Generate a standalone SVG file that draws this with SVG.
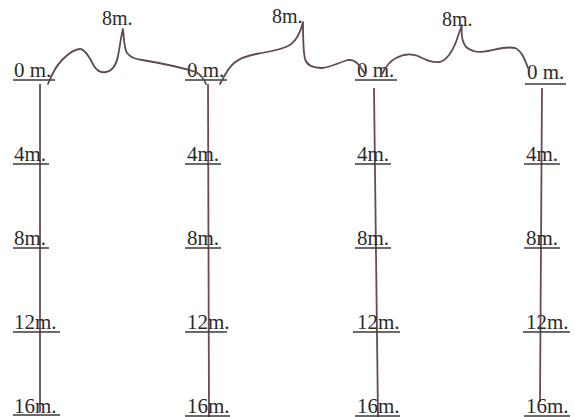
<svg xmlns="http://www.w3.org/2000/svg" width="575" height="417" viewBox="0 0 575 417">
<style>
.t{font-family:"Liberation Serif","Times New Roman",serif;font-size:21px;fill:#2b2b2b}
.tt{font-family:"Liberation Serif","Times New Roman",serif;font-size:20px;fill:#2b2b2b}
.u{stroke:#3a3a3a;stroke-width:1.4}
.pole{stroke:#6a4a58;stroke-width:1.8;fill:none}
.wire{stroke:#5e4a50;stroke-width:1.8;fill:none;stroke-linejoin:round;stroke-linecap:round}
</style>
<rect width="575" height="417" fill="#ffffff"/>
<g id="col1">
<line class="pole" x1="40" y1="84" x2="40" y2="412"/>
<text class="t" x="14" y="77">0 m.</text><line class="u" x1="13" y1="80" x2="55" y2="80"/>
<text class="t" x="14" y="161">4m.</text><line class="u" x1="13" y1="164" x2="49" y2="164"/>
<text class="t" x="14" y="245">8m.</text><line class="u" x1="13" y1="248" x2="49" y2="248"/>
<text class="t" x="14" y="329">12m.</text><line class="u" x1="13" y1="332" x2="60" y2="332"/>
<text class="t" x="14" y="413">16m.</text><line class="u" x1="13" y1="415" x2="60" y2="415"/>
</g>
<g id="col2">
<line class="pole" x1="208" y1="84" x2="209" y2="417"/>
<text class="t" x="187" y="77">0 m.</text><line class="u" x1="185" y1="80" x2="227" y2="80"/>
<text class="t" x="187" y="161">4m.</text><line class="u" x1="185" y1="164" x2="221" y2="164"/>
<text class="t" x="187" y="245">8m.</text><line class="u" x1="185" y1="248" x2="221" y2="248"/>
<text class="t" x="187" y="329">12m.</text><line class="u" x1="185" y1="332" x2="227" y2="332"/>
<text class="t" x="187" y="413">16m.</text><line class="u" x1="185" y1="416" x2="230" y2="416"/>
</g>
<g id="col3">
<line class="pole" x1="374" y1="88" x2="378" y2="417"/>
<text class="t" x="357" y="77">0 m.</text><line class="u" x1="355" y1="80" x2="397" y2="80"/>
<text class="t" x="357" y="161">4m.</text><line class="u" x1="355" y1="164" x2="391" y2="164"/>
<text class="t" x="357" y="245">8m.</text><line class="u" x1="355" y1="248" x2="391" y2="248"/>
<text class="t" x="357" y="329">12m.</text><line class="u" x1="353" y1="332" x2="400" y2="332"/>
<text class="t" x="357" y="413">16m.</text><line class="u" x1="355" y1="416" x2="400" y2="416"/>
</g>
<g id="col4">
<line class="pole" x1="542" y1="88" x2="540" y2="402"/>
<text class="t" x="527" y="79">0 m.</text><line class="u" x1="525" y1="84" x2="566" y2="84"/>
<text class="t" x="526" y="161">4m.</text><line class="u" x1="524" y1="164" x2="560" y2="164"/>
<text class="t" x="526" y="245">8m.</text><line class="u" x1="524" y1="248" x2="560" y2="248"/>
<text class="t" x="526" y="329">12m.</text><line class="u" x1="523" y1="332" x2="570" y2="332"/>
<text class="t" x="526" y="413">16m.</text><line class="u" x1="524" y1="416" x2="570" y2="416"/>
</g>
<g id="connectors">
<path class="wire" d="M48,84 C52,74 56,66 62,60 C68,54 75,49 80,49 C85,49 90,58 94,66 C97,71 101,73 106,72 C112,71 116,66 118,56 C120,46 121,36 123,29 C124,38 124,48 127,53 C131,58 136,59 142,60 C160,63 180,67 196,72 C201,75 204,79 206,84"/>
<path class="wire" d="M220,84 C224,76 228,68 234,63 C240,58 246,56 256,54 C268,52 280,50 288,46 C296,42 300,34 303,22 C303,32 303,50 305,59 C307,66 313,68 322,68 C332,67 340,62 348,60 C356,59 360,66 365,74"/>
<path class="wire" d="M382,74 C386,66 390,61 396,58 C403,54 410,53 418,56 C426,60 432,63 440,62 C447,60 452,52 456,42 C458,36 460,30 462,25 C461,34 462,42 466,47 C472,52 478,53 488,51 C498,49 506,46 515,48 C522,51 525,60 528,68"/>
</g>
<g id="labels-top">
<text class="tt" x="102" y="25">8m.</text>
<text class="tt" x="272" y="23">8m.</text>
<text class="tt" x="442" y="26">8m.</text>
</g>
</svg>
